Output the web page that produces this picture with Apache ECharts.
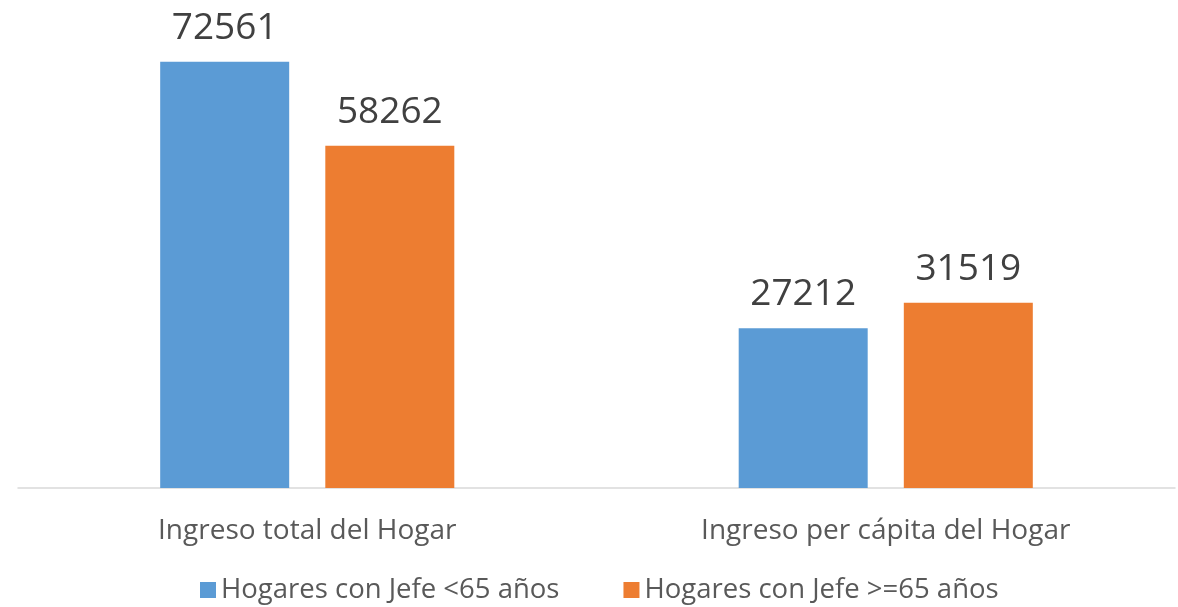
<!DOCTYPE html>
<html>
<head>
<meta charset="utf-8">
<script src="https://cdn.jsdelivr.net/npm/echarts@6/dist/echarts.min.js"></script>
<style>
  html, body { margin: 0; padding: 0; background: #fff; }
  #chart { width: 1178px; height: 607px; }
</style>
</head>
<body>
<div id="chart"></div>
<script>
const categories = ['Ingreso total del Hogar', 'Ingreso per cápita del Hogar']
const seriesNames = ['Hogares con Jefe <65 años', 'Hogares con Jefe >=65 años']
const under65 = [72561, 27212]
const over65 = [58262, 31519]

const BLUE = '#5b9bd5'
const ORANGE = '#ed7d31'
const FONT = '"Open Sans", sans-serif'

const chart = echarts.init(document.getElementById('chart'))

const valueLabel = {
  show: true, position: 'top', distance: 15,
  color: '#404040', fontSize: 37, fontFamily: FONT,
}

chart.setOption({
  animation: false,
  backgroundColor: '#fff',
  textStyle: { fontFamily: FONT },
  grid: { left: 18, right: 3, top: 18, bottom: 119 },
  legend: {
    top: 571, left: 195,
    itemWidth: 16, itemHeight: 16, itemGap: 64,
    icon: 'rect',
    textStyle: { color: '#595959', fontSize: 27.5, fontFamily: FONT },
    data: seriesNames,
  },
  xAxis: {
    type: 'category',
    data: categories,
    axisLine: { lineStyle: { color: '#d9d9d9', width: 1.5 } },
    axisTick: { show: false },
    axisLabel: { color: '#595959', fontSize: 28, margin: 29, fontFamily: FONT },
  },
  yAxis: {
    type: 'value', min: 0, max: 80000,
    show: false,
    splitLine: { show: false },
  },
  series: [
    {
      name: seriesNames[0], type: 'bar', data: under65,
      barWidth: 129, barGap: '28%',
      itemStyle: { color: BLUE },
      label: valueLabel,
    },
    {
      name: seriesNames[1], type: 'bar', data: over65,
      barWidth: 129,
      itemStyle: { color: ORANGE },
      label: valueLabel,
    },
  ],
})
</script>
</body>
</html>
